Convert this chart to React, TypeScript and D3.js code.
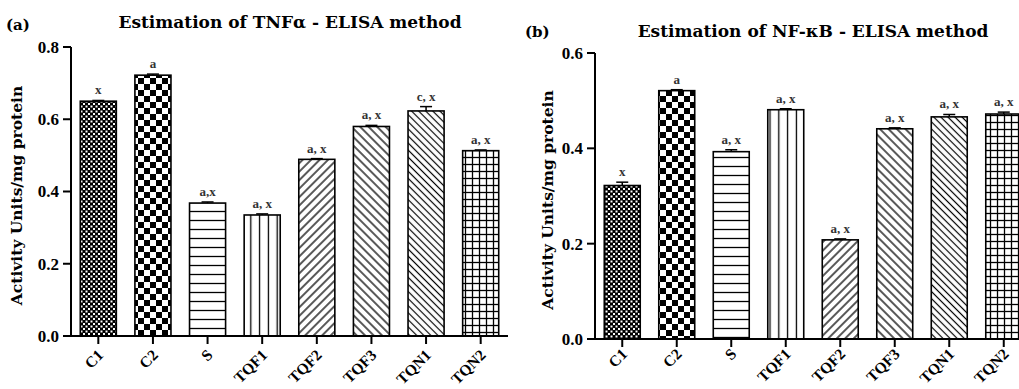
import React from "react";
import * as d3 from "d3";

const categories = ["C1", "C2", "S", "TQF1", "TQF2", "TQF3", "TQN1", "TQN2"];
const patternsA = ["fineCheck", "bigCheck", "hLines", "vLines", "diagUp", "diagDown", "diagDownDense", "grid"];

const tnfValues = [0.65, 0.722, 0.368, 0.335, 0.489, 0.58, 0.623, 0.513];
const tnfErrors = [0.002, 0.003, 0.003, 0.003, 0.002, 0.003, 0.012, 0.002];
const tnfLabels = ["x", "a", "a,x", "a, x", "a, x", "a, x", "c, x", "a, x"];
const tnfTicks = [0, 0.2, 0.4, 0.6, 0.8];

const nfkbValues = [0.322, 0.521, 0.393, 0.481, 0.208, 0.441, 0.466, 0.472];
const nfkbErrors = [0.007, 0.002, 0.004, 0.002, 0.002, 0.002, 0.005, 0.004];
const nfkbLabels = ["x", "a", "a, x", "a, x", "a, x", "a, x", "a, x", "a, x"];
const nfkbTicks = [0, 0.2, 0.4, 0.6];

const SERIF_TITLE = "'DejaVu Serif', serif";
const SERIF = "'Liberation Serif', 'Times New Roman', serif";

type PanelProps = {
  tag: string;
  tagX: number;
  tagY: number;
  title: string;
  titleX: number;
  titleY: number;
  values: number[];
  errors: number[];
  labels: string[];
  ticks: number[];
  yMax: number;
  axisX: number;
  xEnd: number;
  yTop: number;
  yBottom: number;
  yLabelX: number;
  labelDy: number;
};

function Panel(p: PanelProps) {
  const x = d3
    .scaleBand<string>()
    .domain(categories)
    .range([p.axisX, p.xEnd])
    .paddingInner(0.34)
    .paddingOuter(0.17);
  const y = d3.scaleLinear().domain([0, p.yMax]).range([p.yBottom, p.yTop]);
  const bw = x.bandwidth();
  return (
    <g>
      <text x={p.tagX} y={p.tagY} fontFamily={SERIF_TITLE} fontWeight="bold" fontSize={15}>
        {p.tag}
      </text>
      <text x={p.titleX} y={p.titleY} fontFamily={SERIF_TITLE} fontWeight="bold" fontSize={17} textAnchor="middle">
        {p.title}
      </text>
      <text
        transform={`translate(${p.yLabelX},${(p.yTop + p.yBottom) / 2 + 4}) rotate(-90)`}
        fontFamily={SERIF_TITLE}
        fontWeight="bold"
        fontSize={15.5}
        textAnchor="middle"
      >
        Activity Units/mg protein
      </text>
      {categories.map((c, i) => {
        const x0 = x(c)!;
        const top = y(p.values[i]);
        const errTop = y(p.values[i] + p.errors[i]);
        const cx = x0 + bw / 2;
        return (
          <g key={c}>
            <rect x={x0} y={top} width={bw} height={y(0) - top} fill="white" />
            <rect
              x={x0}
              y={top}
              width={bw}
              height={y(0) - top}
              fill={`url(#${patternsA[i]})`}
              stroke="black"
              strokeWidth={1.6}
            />
            <line x1={cx} x2={cx} y1={top} y2={errTop} stroke="black" strokeWidth={1.5} />
            <line x1={cx - 6} x2={cx + 6} y1={errTop} y2={errTop} stroke="black" strokeWidth={1.5} />
            <text
              x={cx}
              y={errTop - 6}
              fontFamily={SERIF}
              fontSize={13}
              fontWeight="bold"
              textAnchor="middle"
              fill="#333"
            >
              {p.labels[i]}
            </text>
          </g>
        );
      })}
      <line x1={p.axisX} x2={p.axisX} y1={y(p.yMax)} y2={y(0)} stroke="black" strokeWidth={2} />
      {p.ticks.map((t) => (
        <g key={t}>
          <line x1={p.axisX - 8} x2={p.axisX} y1={y(t)} y2={y(t)} stroke="black" strokeWidth={2} />
          <text
            x={p.axisX - 12}
            y={y(t)}
            dy="0.35em"
            fontFamily={SERIF}
            fontWeight="bold"
            fontSize={17}
            textAnchor="end"
          >
            {d3.format(".1f")(t)}
          </text>
        </g>
      ))}
      <line x1={p.axisX - 8} x2={p.xEnd} y1={y(0)} y2={y(0)} stroke="black" strokeWidth={2} />
      {categories.map((c) => {
        const cx = x(c)! + bw / 2;
        return (
          <g key={c}>
            <line x1={cx} x2={cx} y1={y(0)} y2={y(0) + 8} stroke="black" strokeWidth={2} />
            <text
              transform={`translate(${cx + 6},${y(0) + p.labelDy}) rotate(-45)`}
              fontFamily={SERIF}
              fontWeight="bold"
              fontSize={15.5}
              textAnchor="end"
            >
              {c}
            </text>
          </g>
        );
      })}
    </g>
  );
}

export default function App() {
  return (
    <svg
      width={1019}
      height={389}
      style={{ position: "absolute", left: 0, top: 0, background: "white" }}
    >
      <defs>
        <pattern id="fineCheck" patternUnits="userSpaceOnUse" width={5} height={5}>
          <rect width={5} height={5} fill="black" />
          <rect x={0.5} y={0.5} width={2} height={2} fill="white" />
          <rect x={3} y={3} width={2} height={2} fill="white" />
        </pattern>
        <pattern id="bigCheck" patternUnits="userSpaceOnUse" width={12} height={12}>
          <rect width={12} height={12} fill="white" />
          <rect x={0} y={0} width={6} height={6} fill="black" />
          <rect x={6} y={6} width={6} height={6} fill="black" />
        </pattern>
        <pattern id="hLines" patternUnits="userSpaceOnUse" width={9} height={9}>
          <rect width={9} height={9} fill="white" />
          <line x1={0} x2={9} y1={4.5} y2={4.5} stroke="black" strokeWidth={1.3} />
        </pattern>
        <pattern id="vLines" patternUnits="userSpaceOnUse" width={8.8} height={9}>
          <rect width={8.8} height={9} fill="white" />
          <line x1={4.4} x2={4.4} y1={0} y2={9} stroke="black" strokeWidth={1.3} />
        </pattern>
        <pattern id="diagUp" patternUnits="userSpaceOnUse" width={6} height={6} patternTransform="rotate(45)">
          <rect width={6} height={6} fill="white" />
          <line x1={3} x2={3} y1={0} y2={6} stroke="black" strokeWidth={1.3} />
        </pattern>
        <pattern id="diagDown" patternUnits="userSpaceOnUse" width={6} height={6} patternTransform="rotate(-45)">
          <rect width={6} height={6} fill="white" />
          <line x1={3} x2={3} y1={0} y2={6} stroke="black" strokeWidth={1.3} />
        </pattern>
        <pattern id="diagDownDense" patternUnits="userSpaceOnUse" width={5} height={5} patternTransform="rotate(-45)">
          <rect width={5} height={5} fill="white" />
          <line x1={2.5} x2={2.5} y1={0} y2={5} stroke="black" strokeWidth={1.2} />
        </pattern>
        <pattern id="grid" patternUnits="userSpaceOnUse" width={7} height={7}>
          <rect width={7} height={7} fill="white" />
          <line x1={3.5} x2={3.5} y1={0} y2={7} stroke="black" strokeWidth={1.3} />
          <line x1={0} x2={7} y1={3.5} y2={3.5} stroke="black" strokeWidth={1.3} />
        </pattern>
      </defs>
      <Panel
        tag="(a)"
        tagX={6}
        tagY={30}
        title="Estimation of TNFα - ELISA method"
        titleX={290}
        titleY={28}
        values={tnfValues}
        errors={tnfErrors}
        labels={tnfLabels}
        ticks={tnfTicks}
        yMax={0.8}
        axisX={71}
        xEnd={508}
        yTop={47}
        yBottom={336}
        yLabelX={22}
        labelDy={20}
      />
      <Panel
        tag="(b)"
        tagX={525}
        tagY={37}
        title="Estimation of NF-κB - ELISA method"
        titleX={813}
        titleY={37}
        values={nfkbValues}
        errors={nfkbErrors}
        labels={nfkbLabels}
        ticks={nfkbTicks}
        yMax={0.6}
        axisX={595}
        xEnd={1031}
        yTop={53}
        yBottom={339}
        yLabelX={553}
        labelDy={16}
      />
    </svg>
  );
}
